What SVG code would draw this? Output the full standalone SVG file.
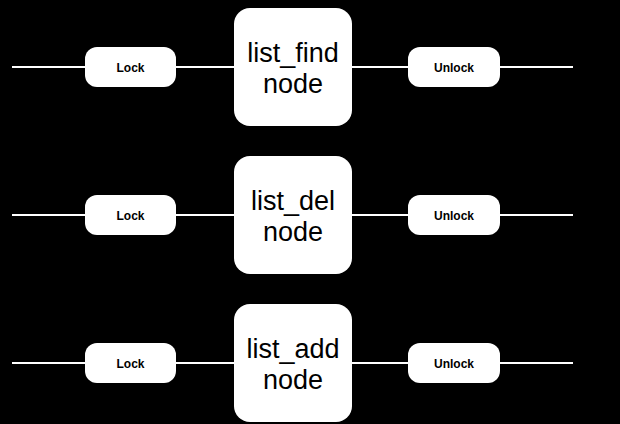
<svg xmlns="http://www.w3.org/2000/svg" width="620" height="424" viewBox="0 0 620 424">
<style>
.bg{fill:#000}
.line{stroke:#fff;stroke-width:2;fill:none}
.small{fill:#fff}
.big{fill:#fff}
.st{font-family:"Liberation Sans",Arial,sans-serif;font-size:12px;font-weight:bold;fill:#000;text-anchor:middle}
.bt{font-family:"Liberation Sans",Arial,sans-serif;font-size:27px;fill:#000;text-anchor:middle}
</style>
<rect class="bg" x="0" y="0" width="620" height="424"/>
<g id="connectors">
<line class="line" x1="12" y1="67" x2="573" y2="67"/>
<line class="line" x1="12" y1="215" x2="573" y2="215"/>
<line class="line" x1="12" y1="363" x2="573" y2="363"/>
</g>
<g id="lock1"><rect class="small" x="85" y="47" width="91" height="40" rx="12"/><text class="st" x="130.5" y="72">Lock</text></g>
<g id="find"><rect class="big" x="234" y="8" width="118" height="118" rx="16"/><text class="bt" x="293" y="62">list_find</text><text class="bt" x="293" y="93">node</text></g>
<g id="unlock1"><rect class="small" x="408" y="47" width="92" height="40" rx="12"/><text class="st" x="454" y="72">Unlock</text></g>
<g id="lock2"><rect class="small" x="85" y="195" width="91" height="40" rx="12"/><text class="st" x="130.5" y="220">Lock</text></g>
<g id="del"><rect class="big" x="234" y="156" width="118" height="118" rx="16"/><text class="bt" x="293" y="210">list_del</text><text class="bt" x="293" y="241">node</text></g>
<g id="unlock2"><rect class="small" x="408" y="195" width="92" height="40" rx="12"/><text class="st" x="454" y="220">Unlock</text></g>
<g id="lock3"><rect class="small" x="85" y="343" width="91" height="40" rx="12"/><text class="st" x="130.5" y="368">Lock</text></g>
<g id="add"><rect class="big" x="234" y="304" width="118" height="118" rx="16"/><text class="bt" x="293" y="358">list_add</text><text class="bt" x="293" y="389">node</text></g>
<g id="unlock3"><rect class="small" x="408" y="343" width="92" height="40" rx="12"/><text class="st" x="454" y="368">Unlock</text></g>
</svg>
